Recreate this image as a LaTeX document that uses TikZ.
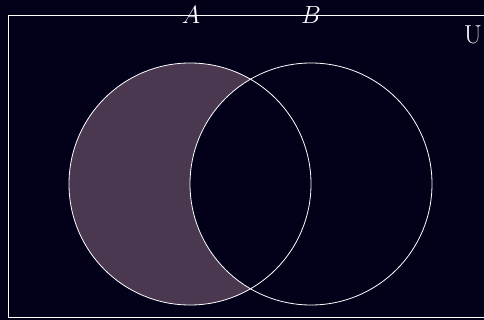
\documentclass[tikz,border=0pt]{standalone}
\definecolor{bgc}{HTML}{03001A}
\definecolor{fillA}{HTML}{4A3750}
\begin{document}
\begin{tikzpicture}[x=1pt,y=-1pt,
  outline/.style={draw=white,line width=0.8pt},
  lbl/.style={text=white,font=\fontsize{26}{30}\selectfont,inner sep=0pt,anchor=base}]
\fill[bgc] (0,0) rectangle (484,320);
\useasboundingbox (0,0) rectangle (484,320);
\fill[fillA] (190,184) circle (121);
\fill[bgc] (311,184) circle (121);
\draw[outline] (8.5,15.3) rectangle (500,317.5);
\draw[outline] (190,184) circle (121);
\draw[outline] (311,184) circle (121);
\node[lbl] (a) at (191,24) {$A$};
\node[lbl] (b) at (311,24) {$B$};
\node[lbl] (u) at (473,44) {U};
\end{tikzpicture}
\end{document}
